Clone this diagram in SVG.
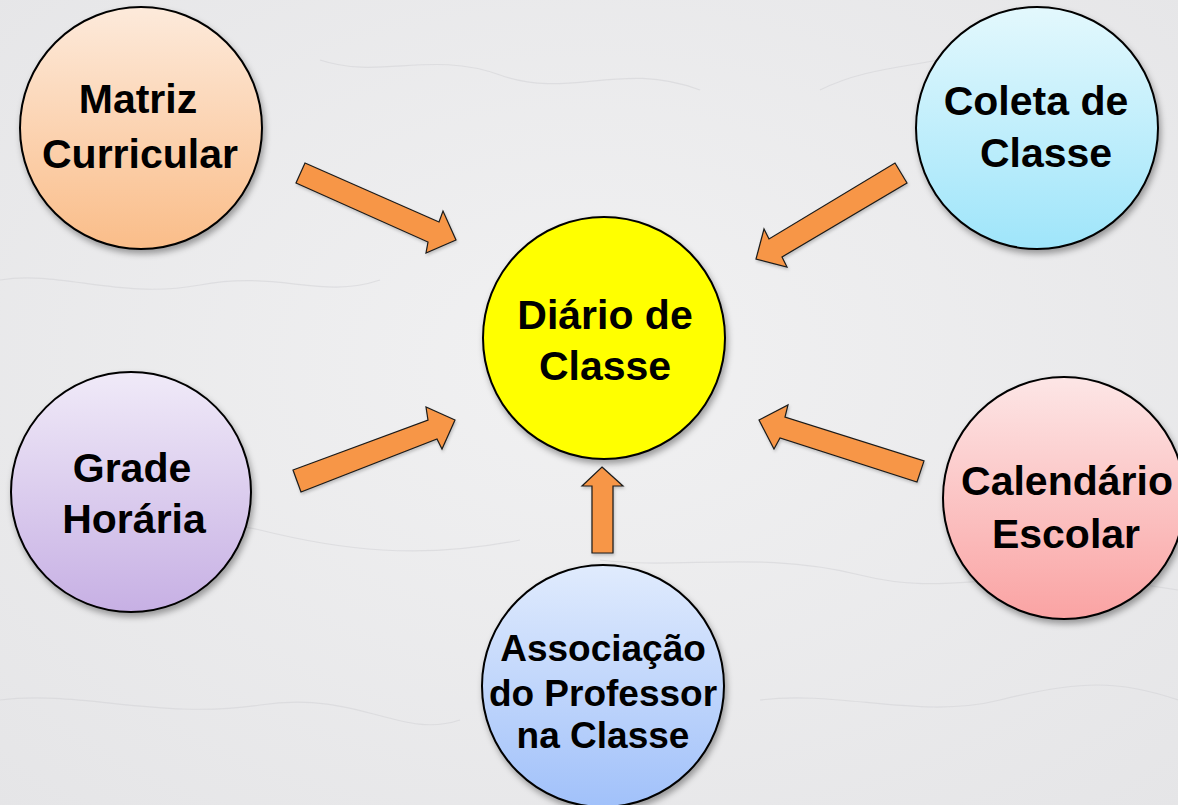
<svg xmlns="http://www.w3.org/2000/svg" width="1178" height="805" viewBox="0 0 1178 805">
  <defs>
    <radialGradient id="bg" cx="50%" cy="45%" r="75%">
      <stop offset="0" stop-color="#F1F1F2"/>
      <stop offset="1" stop-color="#E5E5E7"/>
    </radialGradient>
    <linearGradient id="gPeach" x1="0" y1="0" x2="0" y2="1">
      <stop offset="0" stop-color="#FDEADB"/>
      <stop offset="1" stop-color="#FABD89"/>
    </linearGradient>
    <linearGradient id="gCyan" x1="0" y1="0" x2="0" y2="1">
      <stop offset="0" stop-color="#E3F8FD"/>
      <stop offset="1" stop-color="#9FE5FA"/>
    </linearGradient>
    <linearGradient id="gLav" x1="0" y1="0" x2="0" y2="1">
      <stop offset="0" stop-color="#F0EAF8"/>
      <stop offset="1" stop-color="#C7B0E4"/>
    </linearGradient>
    <linearGradient id="gPink" x1="0" y1="0" x2="0" y2="1">
      <stop offset="0" stop-color="#FDE6E6"/>
      <stop offset="1" stop-color="#FAA3A3"/>
    </linearGradient>
    <linearGradient id="gBlue" x1="0" y1="0" x2="0" y2="1">
      <stop offset="0" stop-color="#E0EBFD"/>
      <stop offset="1" stop-color="#A1C1FA"/>
    </linearGradient>
    <filter id="shadow" x="-20%" y="-20%" width="140%" height="140%">
      <feDropShadow dx="2" dy="4" stdDeviation="3" flood-color="#000" flood-opacity="0.35"/>
    </filter>
    <filter id="ashadow" x="-20%" y="-20%" width="140%" height="140%">
      <feDropShadow dx="1" dy="2" stdDeviation="1.5" flood-color="#000" flood-opacity="0.2"/>
    </filter>
  </defs>
  <style>
    .node { stroke: #000; stroke-width: 2; filter: url(#shadow); }
    .lbl { font-family: "Liberation Sans", Arial, sans-serif; font-weight: bold; font-size: 41px; fill: #000; text-anchor: middle; }
    .sm { font-size: 37px; }
    .arrow { fill: #F79646; stroke: #1a1a1a; stroke-width: 1.2; stroke-linejoin: miter; filter: url(#ashadow); }
    .vein { fill: none; stroke: #D4D4D7; stroke-width: 1.2; opacity: 0.6; }
  </style>

  <rect width="1178" height="805" fill="url(#bg)"/>
  <g id="background-veins">
    <path class="vein" d="M0 280 C 60 270, 120 300, 200 285 S 320 300, 380 280"/>
    <path class="vein" d="M20 520 C 100 530, 180 510, 260 530 S 420 560, 520 540"/>
    <path class="vein" d="M600 560 C 680 570, 760 550, 860 575 S 1000 560, 1178 590"/>
    <path class="vein" d="M820 90 C 880 60, 940 70, 1000 40"/>
    <path class="vein" d="M320 60 C 380 80, 430 50, 500 75 S 620 60, 700 90"/>
    <path class="vein" d="M0 700 C 80 690, 160 720, 260 705 S 400 740, 460 720"/>
    <path class="vein" d="M760 700 C 840 690, 920 720, 1000 700 S 1120 680, 1178 700"/>
  </g>

  <g id="connectors">
    <polygon id="arrow-matriz" class="arrow" points="305,163 439,222 443,211 456,240 426,253 428,242 296,183"/>
    <polygon id="arrow-coleta" class="arrow" points="895,163 907,183 782,257 787,267 756,259 764,229 769,239"/>
    <polygon id="arrow-grade" class="arrow" points="293,470 428,420 426,407 455,420 442,449 437,439 301,492"/>
    <polygon id="arrow-calendario" class="arrow" points="759,420 788,405 785,417 924,461 917,482 780,438 774,449"/>
    <polygon id="arrow-associacao" class="arrow" points="602,467 623,486 613,486 613,553 592,553 592,486 582,486"/>
  </g>

  <g id="node-matriz">
    <circle class="node" cx="141" cy="128" r="121" fill="url(#gPeach)"/>
    <text class="lbl" x="138" y="113">Matriz</text>
    <text class="lbl" x="140" y="168">Curricular</text>
  </g>

  <g id="node-coleta">
    <circle class="node" cx="1037" cy="128" r="121" fill="url(#gCyan)"/>
    <text class="lbl" x="1036" y="115">Coleta de</text>
    <text class="lbl" x="1046" y="167">Classe</text>
  </g>

  <g id="node-diario">
    <circle class="node" cx="604" cy="338" r="121" fill="#FFFF00"/>
    <text class="lbl" x="605" y="329">Diário de</text>
    <text class="lbl" x="605" y="380">Classe</text>
  </g>

  <g id="node-grade">
    <circle class="node" cx="131" cy="492" r="120" fill="url(#gLav)"/>
    <text class="lbl" x="132" y="482">Grade</text>
    <text class="lbl" x="134" y="533">Horária</text>
  </g>

  <g id="node-calendario">
    <circle class="node" cx="1064" cy="498" r="121" fill="url(#gPink)"/>
    <text class="lbl" x="1067" y="495">Calendário</text>
    <text class="lbl" x="1066" y="548">Escolar</text>
  </g>

  <g id="node-associacao">
    <circle class="node" cx="603" cy="686" r="121" fill="url(#gBlue)"/>
    <text class="lbl sm" x="603" y="661">Associação</text>
    <text class="lbl sm" x="603" y="706">do Professor</text>
    <text class="lbl sm" x="603" y="748">na Classe</text>
  </g>
</svg>
